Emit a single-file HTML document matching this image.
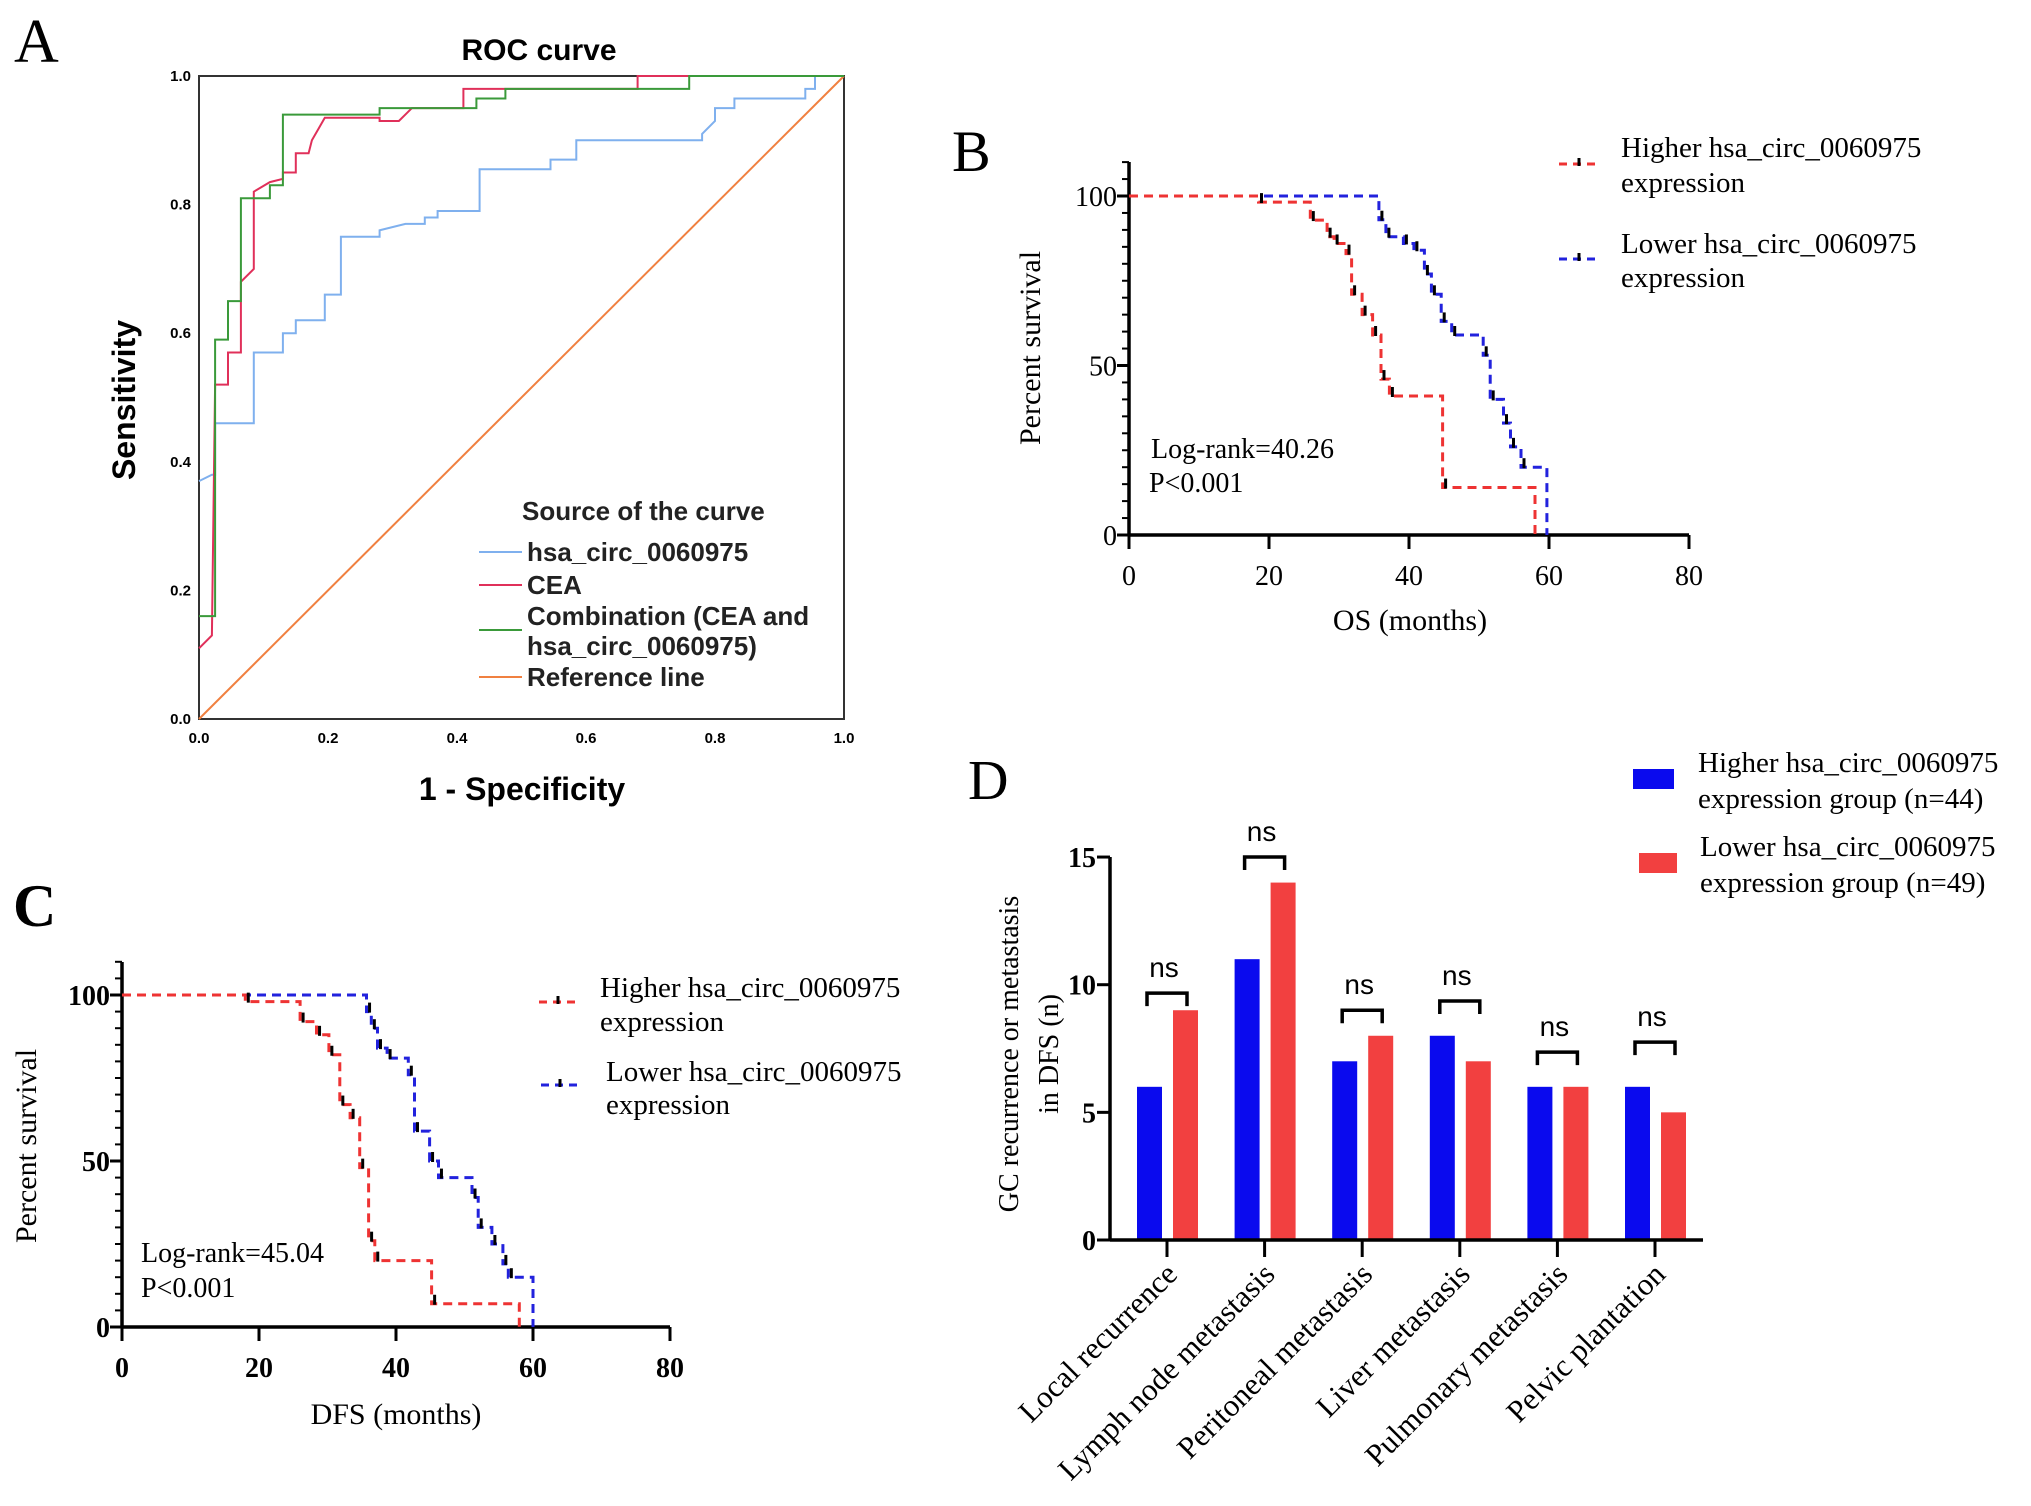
<!DOCTYPE html>
<html><head><meta charset="utf-8"><style>
html,body{margin:0;padding:0;background:#fff}
svg{display:block}
.ser{font-family:"Liberation Serif",serif}
.san{font-family:"Liberation Sans",sans-serif}
</style></head><body>
<svg id="fig" width="2031" height="1506" viewBox="0 0 2031 1506" xmlns="http://www.w3.org/2000/svg">
<rect width="2031" height="1506" fill="#fff"/>
<!-- Panel A static -->
<text class="ser" x="14" y="62" font-size="62">A</text>
<text class="san" x="539" y="60" font-size="30" font-weight="bold" text-anchor="middle">ROC curve</text>
<text class="san" x="0" y="0" font-size="32" font-weight="bold" text-anchor="middle" transform="translate(135,400) rotate(-90)">Sensitivity</text>
<text class="san" x="522" y="800" font-size="32" font-weight="bold" text-anchor="middle">1 - Specificity</text>
<g class="san" font-size="26" font-weight="bold" fill="#222">
<text x="522" y="520">Source of the curve</text>
<line x1="479" y1="552" x2="522" y2="552" stroke="#7fb0ee" stroke-width="2"/>
<text x="527" y="561">hsa_circ_0060975</text>
<line x1="479" y1="585" x2="522" y2="585" stroke="#e0305a" stroke-width="2"/>
<text x="527" y="594">CEA</text>
<line x1="479" y1="630" x2="522" y2="630" stroke="#3a9a3a" stroke-width="2"/>
<text x="527" y="625">Combination (CEA and</text>
<text x="527" y="655">hsa_circ_0060975)</text>
<line x1="479" y1="677" x2="522" y2="677" stroke="#f08040" stroke-width="2"/>
<text x="527" y="686">Reference line</text>
</g>
<g id="gA"></g>

<!-- Panel B static -->
<text class="ser" x="952" y="171" font-size="58">B</text>
<text class="ser" font-size="30" text-anchor="middle" transform="translate(1040,348) rotate(-90)">Percent survival</text>
<text class="ser" x="1410" y="630" font-size="30" text-anchor="middle">OS (months)</text>
<text class="ser" x="1151" y="458" font-size="28">Log-rank=40.26</text>
<text class="ser" x="1149" y="492" font-size="28">P&lt;0.001</text>
<g class="ser" font-size="29">
<line x1="1559" y1="164" x2="1597" y2="164" stroke="#ee3333" stroke-width="3" stroke-dasharray="8,6"/>
<line x1="1579" y1="158" x2="1579" y2="166" stroke="#000" stroke-width="3"/>
<text x="1621" y="157">Higher hsa_circ_0060975</text>
<text x="1621" y="192">expression</text>
<line x1="1559" y1="259" x2="1597" y2="259" stroke="#2222dd" stroke-width="3" stroke-dasharray="8,6"/>
<line x1="1579" y1="253" x2="1579" y2="261" stroke="#000" stroke-width="3"/>
<text x="1621" y="253">Lower hsa_circ_0060975</text>
<text x="1621" y="287">expression</text>
</g>
<g id="gB"></g>

<!-- Panel C static -->
<text class="ser" x="13" y="926" font-size="60" font-weight="bold">C</text>
<text class="ser" font-size="30" text-anchor="middle" transform="translate(36,1146) rotate(-90)">Percent survival</text>
<text class="ser" x="396" y="1424" font-size="30" text-anchor="middle">DFS (months)</text>
<text class="ser" x="141" y="1262" font-size="28">Log-rank=45.04</text>
<text class="ser" x="141" y="1297" font-size="28">P&lt;0.001</text>
<g class="ser" font-size="29">
<line x1="539" y1="1002" x2="576" y2="1002" stroke="#ee3333" stroke-width="3" stroke-dasharray="8,6"/>
<line x1="558" y1="996" x2="558" y2="1004" stroke="#000" stroke-width="3"/>
<text x="600" y="997">Higher hsa_circ_0060975</text>
<text x="600" y="1031">expression</text>
<line x1="541" y1="1085" x2="578" y2="1085" stroke="#2222dd" stroke-width="3" stroke-dasharray="8,6"/>
<line x1="560" y1="1079" x2="560" y2="1087" stroke="#000" stroke-width="3"/>
<text x="606" y="1081">Lower hsa_circ_0060975</text>
<text x="606" y="1114">expression</text>
</g>
<g id="gC"></g>

<!-- Panel D static -->
<text class="ser" x="968" y="799" font-size="56">D</text>
<text class="ser" font-size="28" text-anchor="middle" transform="translate(1018,1054) rotate(-90)">GC recurrence or metastasis</text>
<text class="ser" font-size="28" text-anchor="middle" transform="translate(1058,1054) rotate(-90)">in DFS (n)</text>
<g class="ser" font-size="29">
<rect x="1633" y="769" width="41" height="20" fill="#0a0aee"/>
<text x="1698" y="772">Higher hsa_circ_0060975</text>
<text x="1698" y="808">expression group (n=44)</text>
<rect x="1639" y="853" width="38" height="20" fill="#f24040"/>
<text x="1700" y="856">Lower hsa_circ_0060975</text>
<text x="1700" y="892">expression group (n=49)</text>
</g>
<g id="gD"></g>
</svg>
<script>
// ---------- Data ----------
const rocCircFpr = [0,0.02,0.025,0.025,0.085,0.085,0.13,0.13,0.15,0.15,0.195,0.195,0.22,0.22,0.28,0.28,0.32,0.35,0.35,0.37,0.37,0.435,0.435,0.545,0.545,0.585,0.585,0.78,0.78,0.80,0.80,0.83,0.83,0.94,0.94,0.955,0.955,1];
const rocCircTpr = [0.37,0.38,0.38,0.46,0.46,0.57,0.57,0.60,0.60,0.62,0.62,0.66,0.66,0.75,0.75,0.76,0.77,0.77,0.78,0.78,0.79,0.79,0.855,0.855,0.87,0.87,0.90,0.90,0.91,0.93,0.95,0.95,0.965,0.965,0.98,0.98,1,1];
const rocCeaFpr = [0,0.02,0.025,0.045,0.045,0.065,0.065,0.085,0.085,0.11,0.13,0.13,0.15,0.15,0.17,0.175,0.195,0.28,0.28,0.31,0.33,0.41,0.41,0.68,0.68,1];
const rocCeaTpr = [0.11,0.13,0.52,0.52,0.57,0.57,0.68,0.70,0.82,0.835,0.84,0.85,0.85,0.88,0.88,0.90,0.935,0.935,0.93,0.93,0.95,0.95,0.98,0.98,1,1];
const rocCombFpr = [0,0.025,0.025,0.045,0.045,0.065,0.065,0.11,0.11,0.13,0.13,0.28,0.28,0.43,0.43,0.475,0.475,0.76,0.76,1];
const rocCombTpr = [0.16,0.16,0.59,0.59,0.65,0.65,0.81,0.81,0.83,0.83,0.94,0.94,0.95,0.95,0.965,0.965,0.98,0.98,1,1];
const rocTicks = [0,0.2,0.4,0.6,0.8,1.0];
const rocTickLabels = ["0.0","0.2","0.4","0.6","0.8","1.0"];

const osHighTimes = [18.5,25.9,28.3,29.3,31.0,31.8,33.3,34.8,36,37.2,44.8,58];
const osHighSurv  = [98.2,92.9,88,86,83,71,65,59,46,41,14,0];
const osLowTimes  = [35.7,36.7,39.2,40.7,42.2,43.2,44.6,46.1,50.6,51.6,53.5,54.5,56,59.7];
const osLowSurv   = [93,88,86,84,77,71,63,59,53,40,33,26,20,0];
const dfsHighTimes = [18,26,28.4,30.2,31.8,33.3,34.7,36,36.9,45.2,58];
const dfsHighSurv  = [98,92,88,82,67,63,48,26,20,7,0];
const dfsLowTimes  = [35.7,36.4,37.3,38.7,41.8,42.7,44.9,46.2,51.1,52,54,55.6,56.4,60];
const dfsLowSurv   = [95,90,84,81,76,59,50,45,39,30,25,19,15,0];
const kmXTicks = [0,20,40,60,80];
const kmYTicks = [0,50,100];

const barCategories = ["Local recurrence","Lymph node metastasis","Peritoneal metastasis","Liver metastasis","Pulmonary metastasis","Pelvic plantation"];
const barHigher = [6,11,7,8,6,6];
const barLower  = [9,14,8,7,6,5];
const barSigLevel = [9.67,15.0,9.0,9.36,7.36,7.75];
const barSigLabels = ["ns","ns","ns","ns","ns","ns"];
const barYTicks = [0,5,10,15];

// ---------- Helpers ----------
const NS = "http://www.w3.org/2000/svg";
function mk(tag, attrs, parent){
  const e = document.createElementNS(NS, tag);
  for (const k in attrs) e.setAttribute(k, attrs[k]);
  parent.appendChild(e);
  return e;
}

// ---------- Panel A ----------
(function(){
  const g = document.getElementById('gA');
  const x = v => 199 + v*645, y = v => 719 - v*643;
  const box = mk('rect',{x:x(0),y:y(1),width:x(1)-x(0),height:y(0)-y(1),fill:'none',stroke:'#333','stroke-width':2},g);
  
  
  rocTicks.forEach((t,i)=>{
    const tx = mk('text',{x:x(t),y:743,'font-size':15,'font-weight':'bold','text-anchor':'middle','font-family':'Liberation Sans, sans-serif'},g);
    tx.textContent = rocTickLabels[i];
    
    
    const ty = mk('text',{x:191,y:y(t)+5,'font-size':15,'font-weight':'bold','text-anchor':'end','font-family':'Liberation Sans, sans-serif'},g);
    ty.textContent = rocTickLabels[i];
    
    
  });
  const ref = mk('line',{x1:x(0),y1:y(0),x2:x(1),y2:y(1),stroke:'#f08040','stroke-width':2},g);
  
  
  function curve(fx, fy){
    return fx.map((v,i)=>(i?'L':'M')+x(v).toFixed(1)+','+y(fy[i]).toFixed(1)).join(' ');
  }
  const pc = mk('path',{d:curve(rocCircFpr,rocCircTpr),fill:'none',stroke:'#7fb0ee','stroke-width':2},g);
  
  
  const pe = mk('path',{d:curve(rocCeaFpr,rocCeaTpr),fill:'none',stroke:'#e0305a','stroke-width':2},g);
  
  
  const pm = mk('path',{d:curve(rocCombFpr,rocCombTpr),fill:'none',stroke:'#3a9a3a','stroke-width':2},g);
  
  
})();

// ---------- KM panels ----------
function drawKM(g, x, y, x0, y0, ytop, bold, hiT, hiS, loT, loS, prefix){
  const ff = 'Liberation Serif, serif';
  const yax = mk('line',{x1:x0,y1:ytop,x2:x0,y2:y0,stroke:'#000','stroke-width':3.5},g);
  
  
  const xax = mk('line',{x1:x0,y1:y0,x2:x(80),y2:y0,stroke:'#000','stroke-width':3.5},g);
  
  
  for (let v=0; v<=110; v+=5){
    const major = kmYTicks.indexOf(v) >= 0;
    const tk = mk('line',{x1:x0-(major?12:7),y1:y(v),x2:x0,y2:y(v),stroke:'#000','stroke-width':major?3:2},g);
    
    
  }
  kmYTicks.forEach(v=>{
    const t = mk('text',{x:x0-12,y:y(v)+10,'font-size':28,'text-anchor':'end','font-family':ff,'font-weight':bold?'bold':'normal'},g);
    t.textContent = v;
    
    
  });
  kmXTicks.forEach(v=>{
    const tk = mk('line',{x1:x(v),y1:y0,x2:x(v),y2:y0+14,stroke:'#000','stroke-width':3},g);
    
    
    const t = mk('text',{x:x(v),y:y0+50,'font-size':28,'text-anchor':'middle','font-family':ff,'font-weight':bold?'bold':'normal'},g);
    t.textContent = v;
    
    
  });
  function stepPath(T,S){
    let d = 'M'+x(0)+','+y(100);
    T.forEach((t,i)=>{ d += ' H'+x(t).toFixed(1)+' V'+y(S[i]).toFixed(1); });
    return d;
  }
  const lo = mk('path',{d:stepPath(loT,loS),fill:'none',stroke:'#2222dd','stroke-width':3,'stroke-dasharray':'9,6'},g);
  
  
  const hi = mk('path',{d:stepPath(hiT,hiS),fill:'none',stroke:'#ee3333','stroke-width':3,'stroke-dasharray':'9,6'},g);
  
  
  [[hiT,hiS],[loT,loS]].forEach(([T,S])=>{
    T.forEach((t,i)=>{
      if (S[i] <= 0) return;
      const c = mk('line',{x1:x(t)+3,y1:y(S[i])-9,x2:x(t)+3,y2:y(S[i])+1,stroke:'#000','stroke-width':3},g);
      
      
    });
  });
}
drawKM(document.getElementById('gB'), m=>1129+m*7.0, p=>535-p*3.39, 1129, 535, 162, false, osHighTimes, osHighSurv, osLowTimes, osLowSurv, 'os');
drawKM(document.getElementById('gC'), m=>122+m*6.85, p=>1327-p*3.32, 122, 1327, 962, true, dfsHighTimes, dfsHighSurv, dfsLowTimes, dfsLowSurv, 'dfs');

// ---------- Panel D ----------
(function(){
  const g = document.getElementById('gD');
  const y = v => 1240 - v*25.53;
  const cx = i => 1167 + i*97.6;
  const ff = 'Liberation Serif, serif';
  barCategories.forEach((c,i)=>{
    const b1 = mk('rect',{x:cx(i)-30,y:y(barHigher[i]),width:25,height:y(0)-y(barHigher[i]),fill:'#0a0aee'},g);
    
    
    const b2 = mk('rect',{x:cx(i)+6,y:y(barLower[i]),width:25,height:y(0)-y(barLower[i]),fill:'#f24040'},g);
    
    
    const by = y(barSigLevel[i]);
    const br = mk('path',{d:'M'+(cx(i)-20)+','+(by+13)+' V'+by+' H'+(cx(i)+20)+' V'+(by+13),fill:'none',stroke:'#000','stroke-width':3.5},g);
    
    
    const st = mk('text',{x:cx(i)-3,y:by-16,'font-size':28,'text-anchor':'middle','font-family':'Liberation Sans, sans-serif'},g);
    st.textContent = barSigLabels[i];
    
    
    const tk = mk('line',{x1:cx(i),y1:y(0),x2:cx(i),y2:y(0)+17,stroke:'#000','stroke-width':3},g);
    
    
    const lb = mk('text',{x:0,y:0,'font-size':31,'text-anchor':'end','font-family':ff,transform:'translate('+(cx(i)+12)+','+(y(0)+36)+') rotate(-45)'},g);
    lb.textContent = c;
    
    
  });
  const yax = mk('line',{x1:1110,y1:y(15),x2:1110,y2:y(0),stroke:'#000','stroke-width':3.5},g);
  
  
  const xax = mk('line',{x1:1110,y1:y(0),x2:1703,y2:y(0),stroke:'#000','stroke-width':3.5},g);
  
  
  barYTicks.forEach(v=>{
    const tk = mk('line',{x1:1097,y1:y(v),x2:1110,y2:y(v),stroke:'#000','stroke-width':3},g);
    
    
    const t = mk('text',{x:1096,y:y(v)+10,'font-size':28,'font-weight':'bold','text-anchor':'end','font-family':ff},g);
    t.textContent = v;
    
    
  });
})();
</script>
</body></html>
